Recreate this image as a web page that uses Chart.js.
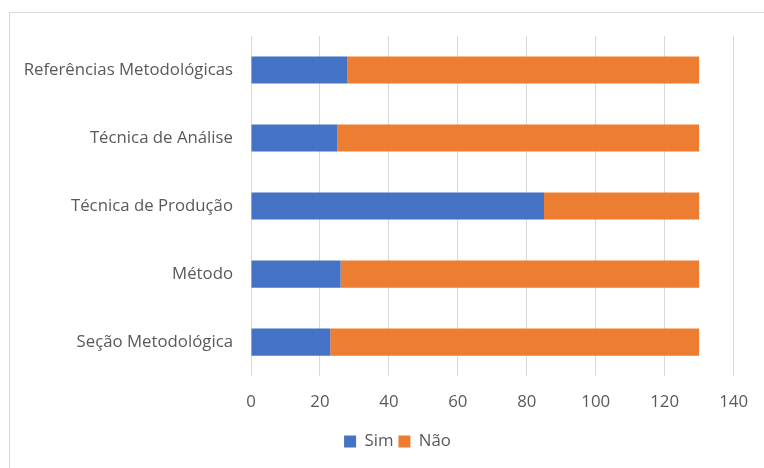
<!DOCTYPE html>
<html>
<head>
<meta charset="utf-8">
<script src="https://cdn.jsdelivr.net/npm/chart.js@4"></script>
<style>
    html, body { margin: 0; padding: 0; background: #fff; overflow: hidden; }
    #wrap { position: relative; width: 764px; height: 468px; }
    #frame {
        position: absolute; left: 9px; top: 12px; width: 800px; height: 500px;
        border-top: 1px solid #d9d9d9; border-left: 1px solid #d9d9d9;
    }
    canvas { position: absolute; left: 0; top: 0; }
</style>
</head>
<body>
<div id="wrap">
    <div id="frame"></div>
    <canvas id="chart" width="764" height="468"></canvas>
</div>
<script>
// الفئات والقيم
const categories = [
    'Referências Metodológicas',
    'Técnica de Análise',
    'Técnica de Produção',
    'Método',
    'Seção Metodológica'
];
const simValues = [28, 25, 85, 26, 23];
const naoValues = [102, 105, 45, 104, 107];
const xTicks = [0, 20, 40, 60, 80, 100, 120, 140];

const textColor = '#595959';
const fontFamily = 'Open Sans, Liberation Sans, sans-serif';

// إزاحة وسيلة الإيضاح لتتوسط الإطار الأصلي
const legendShift = {
    id: 'legendShift',
    afterLayout(chart) {
        chart.legend.left += 28;
        chart.legend.right += 28;
    }
};

new Chart(document.getElementById('chart'), {
    type: 'bar',
    data: {
        labels: categories,
        datasets: [{
            label: 'Sim',
            data: simValues,
            backgroundColor: '#4472C4'
        }, {
            label: 'Não',
            data: naoValues,
            backgroundColor: '#ED7D31'
        }]
    },
    options: {
        indexAxis: 'y',
        responsive: false,
        animation: false,
        categoryPercentage: 1,
        barPercentage: 0.4,
        layout: {
            padding: { top: 36, right: 25, bottom: 8, left: 0 }
        },
        scales: {
            x: {
                stacked: true,
                min: 0,
                max: 140,
                afterBuildTicks: axis => {
                    axis.ticks = xTicks.map(v => ({ value: v }));
                },
                grid: { color: '#d9d9d9', drawTicks: false },
                border: { display: false },
                ticks: {
                    color: textColor,
                    padding: 16,
                    font: { family: fontFamily, size: 16.8 }
                }
            },
            y: {
                stacked: true,
                afterFit: axis => { axis.width = 251; },
                grid: { display: false, drawTicks: false },
                border: { display: false },
                ticks: {
                    color: textColor,
                    padding: 18,
                    font: { family: fontFamily, size: 16.8 }
                }
            }
        },
        plugins: {
            legend: {
                position: 'bottom',
                labels: {
                    color: textColor,
                    boxWidth: 12,
                    boxHeight: 12,
                    padding: 5,
                    font: { family: fontFamily, size: 16.8 }
                }
            },
            tooltip: { enabled: false }
        }
    },
    plugins: [legendShift]
});
</script>
</body>
</html>
